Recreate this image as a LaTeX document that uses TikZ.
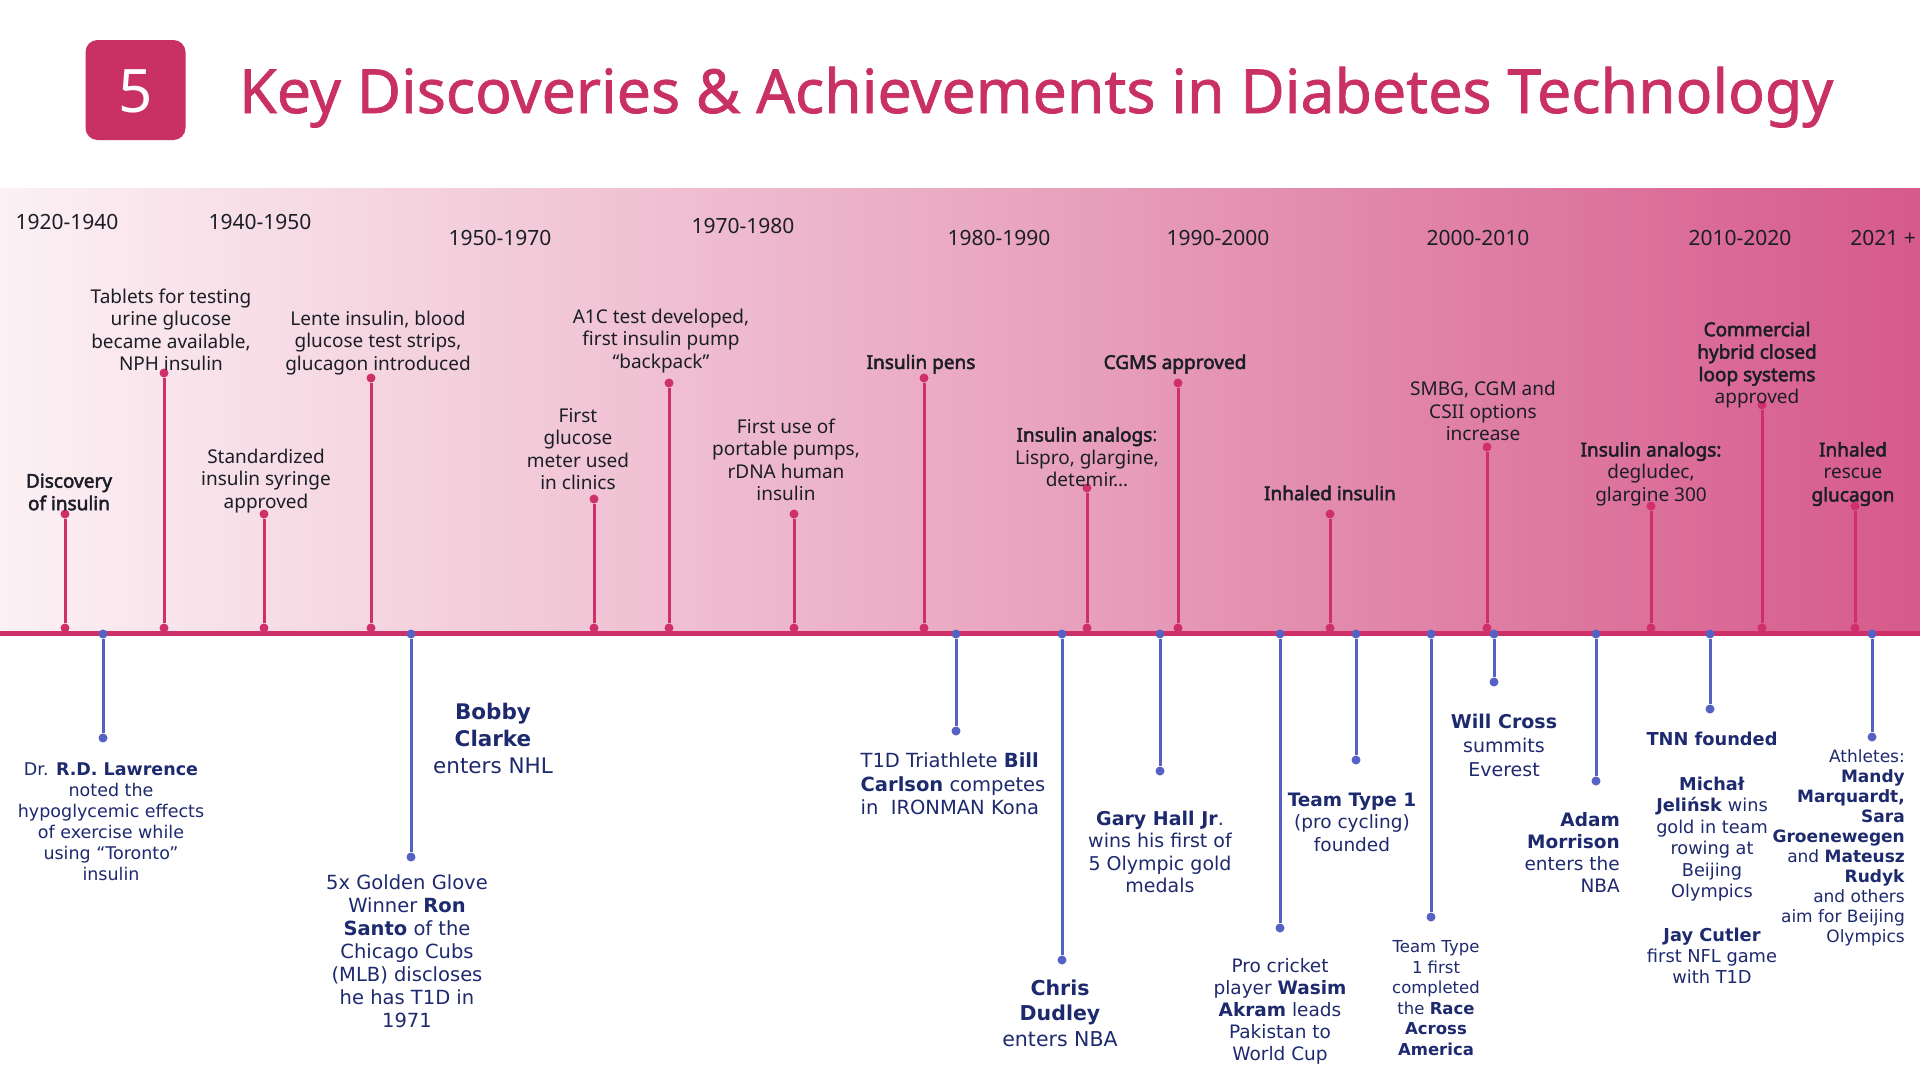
\documentclass[tikz,border=0pt]{standalone}
\usepackage{fontspec}
\setmainfont{Noto Sans}[BoldFont={Noto Sans}, BoldFeatures={FakeBold=2.6}]
\newfontfamily\athfont{DejaVu Sans}
\newfontfamily\titlefont[FakeBold=1.2]{Noto Sans}
\usetikzlibrary{positioning,calc}
\definecolor{raspberry}{HTML}{C93165}
\definecolor{stempink}{HTML}{D0306A}
\definecolor{stemblue}{HTML}{5562C4}
\definecolor{navy}{HTML}{1E2A6E}
\definecolor{inkgrey}{HTML}{1C1E26}
\definecolor{bandleft}{HTML}{FCF1F4}
\definecolor{bandmid}{HTML}{EAAAC2}
\definecolor{bandright}{HTML}{D65A8A}

\begin{document}
\begin{tikzpicture}[x=1pt,y=-1pt]
\tikzset{
    pdot/.style={circle, fill=stempink, inner sep=0pt, minimum size=9pt},
    bdot/.style={circle, fill=stemblue, inner sep=0pt, minimum size=9pt},
    pstem/.style={stempink, line width=3pt},
    bstem/.style={stemblue, line width=3pt},
    yearlbl/.style={font=\fontsize{21}{24}\selectfont, text=inkgrey, inner sep=0pt},
    event/.style={font=\fontsize{19}{22.5}\selectfont, text=inkgrey, align=center, inner sep=0pt},
    athlete/.style 2 args={font=\athfont\fontsize{#1}{#2}\selectfont, text=navy, align=center, inner sep=0pt}
}
\useasboundingbox (0,0) rectangle (1920,1080);
\fill[white] (0,0) rectangle (1920,1080);
\shade[left color=bandleft, right color=bandright, middle color=bandmid] (0,188) rectangle (1920,633);

\node[fill=raspberry, rounded corners=12pt, minimum width=100pt, minimum height=100pt] (badge) at (135.5,90) {};
\node[anchor=base, text=white, font=\fontsize{60}{60}\selectfont, inner sep=0pt] (badgenum) at (135.5,112) {5};
\node[anchor=base west, text=raspberry, font=\titlefont\fontsize{60.8}{62}\selectfont, inner sep=0pt] (title) at (239,113) {Key Discoveries \& Achievements in Diabetes Technology};

\coordinate (tlstart) at (0,633);
\coordinate (tlend) at (1920,633);
\draw[stempink, line width=5pt] (tlstart) -- (tlend);

\node[yearlbl] (y1920) at (67,222) {1920-1940};
\node[yearlbl] (y1940) at (260,222) {1940-1950};
\node[yearlbl] (y1950) at (500,238) {1950-1970};
\node[yearlbl] (y1970) at (743,226) {1970-1980};
\node[yearlbl] (y1980) at (999,238) {1980-1990};
\node[yearlbl] (y1990) at (1218,238) {1990-2000};
\node[yearlbl] (y2000) at (1478,238) {2000-2010};
\node[yearlbl] (y2010) at (1740,238) {2010-2020};
\node[yearlbl] (y2021) at (1883,238) {2021 +};

\node[pdot] (insulin-base) at (65,628) {};
\node[pdot] (insulin-tip) at (65,514) {};
\draw[pstem] (insulin-base) -- (insulin-tip);
\node[event] (insulin) at (69,492) {\textbf{Discovery}\\\textbf{of insulin}};

\node[pdot] (tablets-base) at (164,628) {};
\node[pdot] (tablets-tip) at (164,373) {};
\draw[pstem] (tablets-base) -- (tablets-tip);
\node[event] (tablets) at (171,330) {Tablets for testing\\urine glucose\\became available,\\NPH insulin};

\node[pdot] (syringe-base) at (264,628) {};
\node[pdot] (syringe-tip) at (264,514) {};
\draw[pstem] (syringe-base) -- (syringe-tip);
\node[event] (syringe) at (266,481) {Standardized\\insulin syringe\\approved};

\node[pdot] (lente-base) at (371,628) {};
\node[pdot] (lente-tip) at (371,378) {};
\draw[pstem] (lente-base) -- (lente-tip);
\node[event] (lente) at (378,343) {Lente insulin, blood\\glucose test strips,\\glucagon introduced};

\node[pdot] (meter-base) at (594,628) {};
\node[pdot] (meter-tip) at (594,499) {};
\draw[pstem] (meter-base) -- (meter-tip);
\node[event] (meter) at (578,449) {First\\glucose\\meter used\\in clinics};

\node[pdot] (aonec-base) at (669,628) {};
\node[pdot] (aonec-tip) at (669,383) {};
\draw[pstem] (aonec-base) -- (aonec-tip);
\node[event] (aonec) at (661,341) {A1C test developed,\\first insulin pump\\“backpack”};

\node[pdot] (pumps-base) at (794,628) {};
\node[pdot] (pumps-tip) at (794,514) {};
\draw[pstem] (pumps-base) -- (pumps-tip);
\node[event] (pumps) at (786,460) {First use of\\portable pumps,\\rDNA human\\insulin};

\node[pdot] (pens-base) at (924,628) {};
\node[pdot] (pens-tip) at (924,378) {};
\draw[pstem] (pens-base) -- (pens-tip);
\node[event] (pens) at (921,364) {\textbf{Insulin pens}};

\node[pdot] (analogs-base) at (1087,628) {};
\node[pdot] (analogs-tip) at (1087,488) {};
\draw[pstem] (analogs-base) -- (analogs-tip);
\node[event] (analogs) at (1087,457) {\textbf{Insulin analogs}:\\Lispro, glargine,\\detemir…};

\node[pdot] (cgms-base) at (1178,628) {};
\node[pdot] (cgms-tip) at (1178,383) {};
\draw[pstem] (cgms-base) -- (cgms-tip);
\node[event] (cgms) at (1175,364) {\textbf{CGMS approved}};

\node[pdot] (inhaled-base) at (1330,628) {};
\node[pdot] (inhaled-tip) at (1330,514) {};
\draw[pstem] (inhaled-base) -- (inhaled-tip);
\node[event] (inhaled) at (1330,493) {\textbf{Inhaled insulin}};

\node[pdot] (smbg-base) at (1487,628) {};
\node[pdot] (smbg-tip) at (1487,447) {};
\draw[pstem] (smbg-base) -- (smbg-tip);
\node[event] (smbg) at (1483,411) {SMBG, CGM and\\CSII options\\increase};

\node[pdot] (degludec-base) at (1651,628) {};
\node[pdot] (degludec-tip) at (1651,506) {};
\draw[pstem] (degludec-base) -- (degludec-tip);
\node[event] (degludec) at (1651,474) {\textbf{Insulin analogs:}\\degludec,\\glargine 300};

\node[pdot] (hybrid-base) at (1762,628) {};
\node[pdot] (hybrid-tip) at (1762,405) {};
\draw[pstem] (hybrid-base) -- (hybrid-tip);
\node[event] (hybrid) at (1757,365) {\textbf{Commercial}\\\textbf{hybrid closed}\\\textbf{loop systems}\\approved};

\node[pdot] (glucagon-base) at (1855,628) {};
\node[pdot] (glucagon-tip) at (1855,506) {};
\draw[pstem] (glucagon-base) -- (glucagon-tip);
\node[event] (glucagon) at (1853,474) {\textbf{Inhaled}\\rescue\\\textbf{glucagon}};

\node[bdot] (lawrence-base) at (103,634) {};
\node[bdot] (lawrence-tip) at (103,738) {};
\draw[bstem] (lawrence-base) -- (lawrence-tip);
\node[athlete={17.5}{21}] (lawrence) at (111,822) {Dr. \textbf{R.D. Lawrence}\\noted the\\hypoglycemic effects\\of exercise while\\using “Toronto”\\insulin};

\node[bdot] (santo-base) at (411,634) {};
\node[bdot] (santo-tip) at (411,857) {};
\draw[bstem] (santo-base) -- (santo-tip);
\node[athlete={19.5}{23}] (santo) at (407,951) {5x Golden Glove\\Winner \textbf{Ron}\\\textbf{Santo} of the\\Chicago Cubs\\(MLB) discloses\\he has T1D in\\1971};
\node[athlete={21.5}{27}] (clarke) at (493,738) {\textbf{Bobby}\\\textbf{Clarke}\\enters NHL};

\node[bdot] (carlson-base) at (956,634) {};
\node[bdot] (carlson-tip) at (956,731) {};
\draw[bstem] (carlson-base) -- (carlson-tip);
\node[athlete={19.5}{23.5}, align=left] (carlson) at (953,784) {T1D Triathlete \textbf{Bill}\\\textbf{Carlson} competes\\in\ \ IRONMAN Kona};

\node[bdot] (dudley-base) at (1062,634) {};
\node[bdot] (dudley-tip) at (1062,960) {};
\draw[bstem] (dudley-base) -- (dudley-tip);
\node[athlete={20.5}{25.5}] (dudley) at (1060,1013) {\textbf{Chris}\\\textbf{Dudley}\\enters NBA};

\node[bdot] (hall-base) at (1160,634) {};
\node[bdot] (hall-tip) at (1160,771) {};
\draw[bstem] (hall-base) -- (hall-tip);
\node[athlete={19}{22.5}] (hall) at (1160,852) {\textbf{Gary Hall Jr}.\\wins his first of\\5 Olympic gold\\medals};

\node[bdot] (akram-base) at (1280,634) {};
\node[bdot] (akram-tip) at (1280,928) {};
\draw[bstem] (akram-base) -- (akram-tip);
\node[athlete={18.5}{22}] (akram) at (1280,1011) {Pro cricket\\player \textbf{Wasim}\\\textbf{Akram} leads\\Pakistan to\\World Cup};

\node[bdot] (cycling-base) at (1356,634) {};
\node[bdot] (cycling-tip) at (1356,760) {};
\draw[bstem] (cycling-base) -- (cycling-tip);
\node[athlete={18.5}{22.5}] (cycling) at (1352,822) {\textbf{Team Type 1}\\(pro cycling)\\founded};

\node[bdot] (raam-base) at (1431,634) {};
\node[bdot] (raam-tip) at (1431,917) {};
\draw[bstem] (raam-base) -- (raam-tip);
\node[athlete={16.5}{20.5}] (raam) at (1436,998) {Team Type\\1 first\\completed\\the \textbf{Race}\\\textbf{Across}\\\textbf{America}};

\node[bdot] (everest-base) at (1494,634) {};
\node[bdot] (everest-tip) at (1494,682) {};
\draw[bstem] (everest-base) -- (everest-tip);
\node[athlete={19}{24}] (everest) at (1504,745) {\textbf{Will Cross}\\summits\\Everest};

\node[bdot] (morrison-base) at (1596,634) {};
\node[bdot] (morrison-tip) at (1596,781) {};
\draw[bstem] (morrison-base) -- (morrison-tip);
\node[athlete={18.5}{22}, align=right, anchor=east] (morrison) at (1620,852) {\textbf{Adam}\\\textbf{Morrison}\\enters the\\NBA};

\node[bdot] (tnn-base) at (1710,634) {};
\node[bdot] (tnn-tip) at (1710,709) {};
\draw[bstem] (tnn-base) -- (tnn-tip);
\node[athlete={17.8}{21.5}] (tnn) at (1712,739) {\textbf{TNN founded}};
\node[athlete={17.7}{21.5}] (jelinski) at (1712,839) {\textbf{Michał}\\\textbf{Jelińsk} wins\\gold in team\\rowing at\\Beijing\\Olympics};
\node[athlete={17.8}{21}] (cutler) at (1712,956) {\textbf{Jay Cutler}\\first NFL game\\with T1D};

\node[bdot] (beijing-base) at (1872,634) {};
\node[bdot] (beijing-tip) at (1872,737) {};
\draw[bstem] (beijing-base) -- (beijing-tip);
\node[athlete={17}{20}, align=right, anchor=east] (beijing) at (1905,848) {Athletes:\\\textbf{Mandy}\\\textbf{Marquardt,}\\\textbf{Sara}\\\textbf{Groenewegen}\\and \textbf{Mateusz}\\\textbf{Rudyk}\\and others\\aim for Beijing\\Olympics};
\end{tikzpicture}
\end{document}
